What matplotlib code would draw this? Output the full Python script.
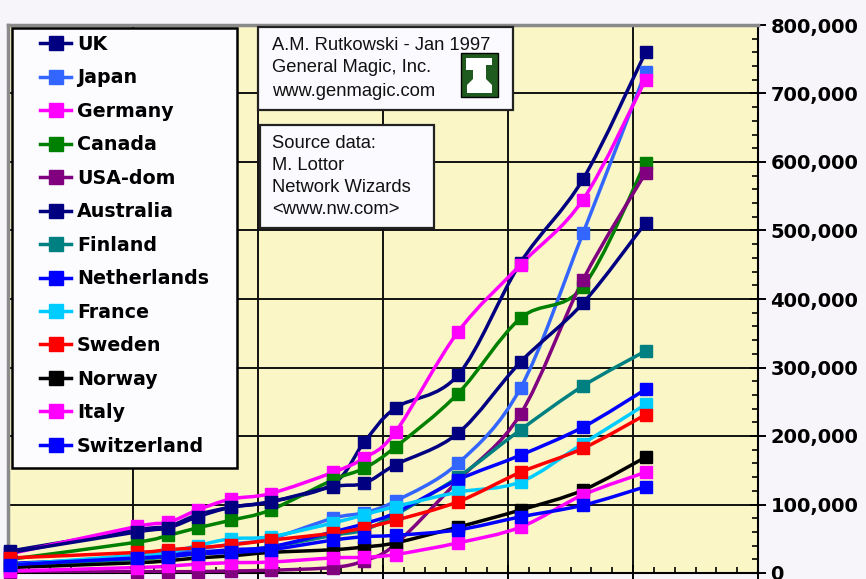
import numpy as np
import matplotlib.pyplot as plt
from matplotlib.path import Path
from matplotlib.patches import PathPatch, Rectangle, Polygon
from matplotlib.lines import Line2D
from matplotlib.ticker import MultipleLocator, FuncFormatter

W, H = 866, 579

# months since the first survey, one entry per survey
survey_month = [0.1, 6.2, 7.7, 9.1, 10.7, 12.6, 15.6, 17.1, 18.6, 21.6, 24.6, 27.6, 30.6]

countries = ["UK", "Japan", "Germany", "Canada", "USA-dom", "Australia", "Finland",
             "Netherlands", "France", "Sweden", "Norway", "Italy", "Switzerland"]
colors = ["#000080", "#3366ff", "#ff00ff", "#008000", "#800080", "#000080", "#008080",
          "#0000ff", "#00ccff", "#ff0000", "#000000", "#ff00ff", "#0000ff"]

# host counts, thousands
uk          = [32, 63, 68, 85, 96, 104, 130, 191, 241, 289, 453, 575, 760]
japan       = [10, 25, 30, 35, 42, 50, 80, 88, 105, 160, 270, 496, 731]
germany     = [28, 68, 74, 92, 108, 116, 147, 168, 206, 352, 450, 545, 720]
canada      = [20, 45, 55, 66, 77, 92, 136, 153, 184, 262, 372, 418, 599]
usa_dom     = [1, 2, 2, 2, 3, 4, 8, 18, 42, 135, 232, 428, 584]
australia   = [30, 60, 66, 82, 96, 104, 126, 131, 158, 204, 308, 394, 511]
finland     = [12, 20, 24, 28, 32, 38, 55, 63, 85, 140, 209, 273, 324]
netherlands = [14, 22, 26, 30, 34, 38, 60, 72, 88, 136, 172, 213, 268]
france      = [12, 26, 30, 40, 50, 53, 73, 85, 97, 118, 133, 189, 246]
sweden      = [22, 30, 34, 37, 41, 48, 58, 66, 77, 104, 147, 182, 231]
norway      = [8, 15, 18, 22, 25, 30, 34, 38, 44, 67, 92, 121, 169]
italy       = [3, 8, 10, 13, 15, 16, 22, 23, 27, 44, 67, 114, 147]
switzerland = [12, 22, 24, 28, 30, 34, 48, 53, 55, 63, 82, 99, 126]

series = [uk, japan, germany, canada, usa_dom, australia, finland,
          netherlands, france, sweden, norway, italy, switzerland]


def fx(px):
    return px / W


def fy(py):
    return 1 - py / H


def smooth_path(xs, ys):
    # spreadsheet-style smoothed line: cubic bezier through every point
    pts = np.column_stack([xs, ys]).astype(float)
    n = len(pts)
    verts = [pts[0]]
    codes = [Path.MOVETO]
    for i in range(n - 1):
        p0 = pts[max(i - 1, 0)]
        p1 = pts[i]
        p2 = pts[i + 1]
        p3 = pts[min(i + 2, n - 1)]
        verts += [p1 + (p2 - p0) / 6, p2 - (p3 - p1) / 6, p2]
        codes += [Path.CURVE4] * 3
    return Path(verts, codes)


fig = plt.figure(figsize=(W / 100, H / 100), dpi=100, facecolor="#f7f5fa")
ax = fig.add_axes([fx(8), fy(573), fx(758) - fx(8), fy(25) - fy(573)])
ax.set_facecolor("#fbf6c6")

lw = 2.5
for vals, c in zip(series, colors):
    y = np.array(vals) * 1000
    ax.add_patch(PathPatch(smooth_path(survey_month, y), fill=False, edgecolor=c,
                           lw=lw, capstyle="round", joinstyle="round", zorder=3))
    ax.plot(survey_month, y, linestyle="none", marker="s", ms=9, color=c,
            mec=c, zorder=4, clip_on=False)

ax.set_xlim(0, 36)
ax.set_ylim(0, 800000)
ax.xaxis.set_major_locator(MultipleLocator(6))
ax.xaxis.set_minor_locator(MultipleLocator(1))
ax.yaxis.set_major_locator(MultipleLocator(100000))
ax.yaxis.set_minor_locator(MultipleLocator(20000))
ax.yaxis.tick_right()
ax.set_xticklabels([])
ax.yaxis.set_major_formatter(FuncFormatter(lambda v, p: f"{int(v):,}"))
ax.grid(True, which="major", color="#111111", lw=1.4, zorder=1)
ax.set_axisbelow(True)
ax.tick_params(axis="y", which="major", direction="inout", length=12, width=1.4,
               pad=3, labelsize=14, right=True, left=False)
ax.tick_params(axis="y", which="minor", direction="in", length=4, width=1.2,
               right=True, left=False)
ax.tick_params(axis="x", which="major", direction="inout", length=12, width=1.4)
ax.tick_params(axis="x", which="minor", direction="in", length=4, width=1.2)
for lab in ax.get_yticklabels():
    lab.set_fontweight("bold")
    lab.set_family("DejaVu Sans")
for side in ("top", "left"):
    ax.spines[side].set_color("#8a8a8a")
    ax.spines[side].set_linewidth(2.5)
for side in ("right", "bottom"):
    ax.spines[side].set_color("black")
    ax.spines[side].set_linewidth(1.5)

# legend box
fig.add_artist(Rectangle((fx(12), fy(468)), fx(237) - fx(12), fy(28) - fy(468),
                         transform=fig.transFigure, facecolor="#fcfcff",
                         edgecolor="black", lw=1.8, zorder=5))
handles = [Line2D([], [], color=c, lw=lw, marker="s", ms=10) for c in colors]
fig.legend(handles, countries, loc="upper left", bbox_to_anchor=(fx(40), fy(35)),
           frameon=False, borderpad=0, borderaxespad=0, handlelength=1.65,
           handletextpad=0.3, labelspacing=0.76,
           prop=dict(family="DejaVu Sans", weight="bold", size=13.7)).set_zorder(6)

# credit boxes
box_font = dict(family="Liberation Sans", size=13.2, color="#111111", va="center",
                ha="left", zorder=7)
fig.add_artist(Rectangle((fx(258), fy(110)), fx(513) - fx(258), fy(27) - fy(110),
                         transform=fig.transFigure, facecolor="#fafaff",
                         edgecolor="#222222", lw=1.6, zorder=5))
for line, py in zip(["A.M. Rutkowski - Jan 1997", "General Magic, Inc.",
                     "www.genmagic.com"], [45, 68, 91]):
    fig.text(fx(272), fy(py), line, **box_font)

fig.add_artist(Rectangle((fx(461), fy(97)), fx(498) - fx(461), fy(53) - fy(97),
                         transform=fig.transFigure, facecolor="#1f5a1f",
                         edgecolor="black", lw=1.0, zorder=8))
hat = [(466, 58), (492, 58), (492, 65), (486, 65), (486, 79), (492, 85), (492, 93),
       (467, 93), (467, 85), (473, 79), (473, 70), (466, 70)]
fig.add_artist(Polygon([(fx(a), fy(b)) for a, b in hat], closed=True,
                       transform=fig.transFigure, facecolor="white",
                       edgecolor="none", zorder=9))

fig.add_artist(Rectangle((fx(260), fy(228)), fx(434) - fx(260), fy(125) - fy(228),
                         transform=fig.transFigure, facecolor="#fafaff",
                         edgecolor="#222222", lw=1.6, zorder=5))
for line, py in zip(["Source data:", "M. Lottor", "Network Wizards", "<www.nw.com>"],
                    [143, 165, 187, 209]):
    fig.text(fx(272), fy(py), line, **box_font)

fig.savefig("out.png", dpi=100, facecolor=fig.get_facecolor())
